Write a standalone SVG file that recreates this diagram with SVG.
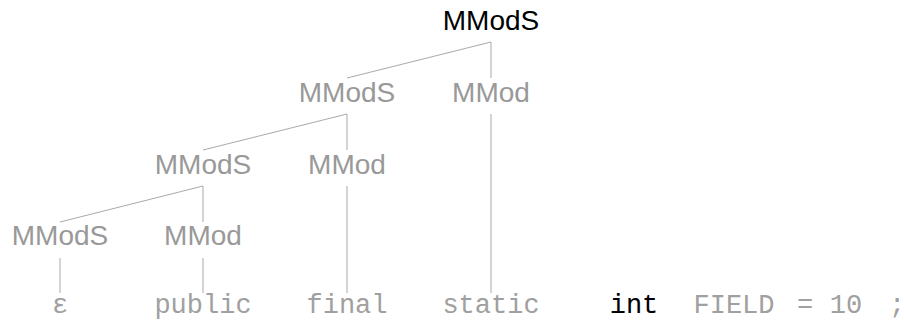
<svg xmlns="http://www.w3.org/2000/svg" width="904" height="321" viewBox="0 0 904 321">
<style>
.n{font-family:"Liberation Sans",Arial,sans-serif;font-size:28px;text-anchor:middle;fill:#999999}
.root{fill:#000000}
.t{font-family:"Liberation Mono","Courier New",monospace;font-size:27px;text-anchor:middle;fill:#a0a0a0}
.k{fill:#000000}
.e{stroke:#aaaaaa;stroke-width:1;fill:none}
</style>
<rect width="904" height="321" fill="#ffffff"/>
<g id="connectors">
<line class="e" x1="491" y1="42" x2="347" y2="78"/>
<line class="e" x1="491" y1="42" x2="491" y2="78"/>
<line class="e" x1="347" y1="114" x2="203" y2="150"/>
<line class="e" x1="347" y1="114" x2="347" y2="150"/>
<line class="e" x1="491" y1="114" x2="491" y2="293"/>
<line class="e" x1="203" y1="186" x2="60" y2="222"/>
<line class="e" x1="203" y1="186" x2="203" y2="222"/>
<line class="e" x1="347" y1="186" x2="347" y2="293"/>
<line class="e" x1="60" y1="258" x2="60" y2="293"/>
<line class="e" x1="203" y1="258" x2="203" y2="293"/>
</g>
<g id="n1"><text class="n root" x="491" y="30">MModS</text></g>
<g id="n2"><text class="n" x="347" y="102">MModS</text></g>
<g id="n3"><text class="n" x="491" y="102">MMod</text></g>
<g id="n4"><text class="n" x="203" y="174">MModS</text></g>
<g id="n5"><text class="n" x="347" y="174">MMod</text></g>
<g id="n6"><text class="n" x="60" y="245">MModS</text></g>
<g id="n7"><text class="n" x="203" y="245">MMod</text></g>
<g id="tokens">
<text class="t" x="60" y="313">ε</text>
<text class="t" x="203" y="313">public</text>
<text class="t" x="347" y="313">final</text>
<text class="t" x="491" y="313">static</text>
<text class="t k" x="634" y="313">int</text>
<text class="t" x="734" y="313">FIELD</text>
<text class="t" x="805" y="313">=</text>
<text class="t" x="846" y="313">10</text>
<text class="t" x="897" y="313">;</text>
</g>
</svg>
